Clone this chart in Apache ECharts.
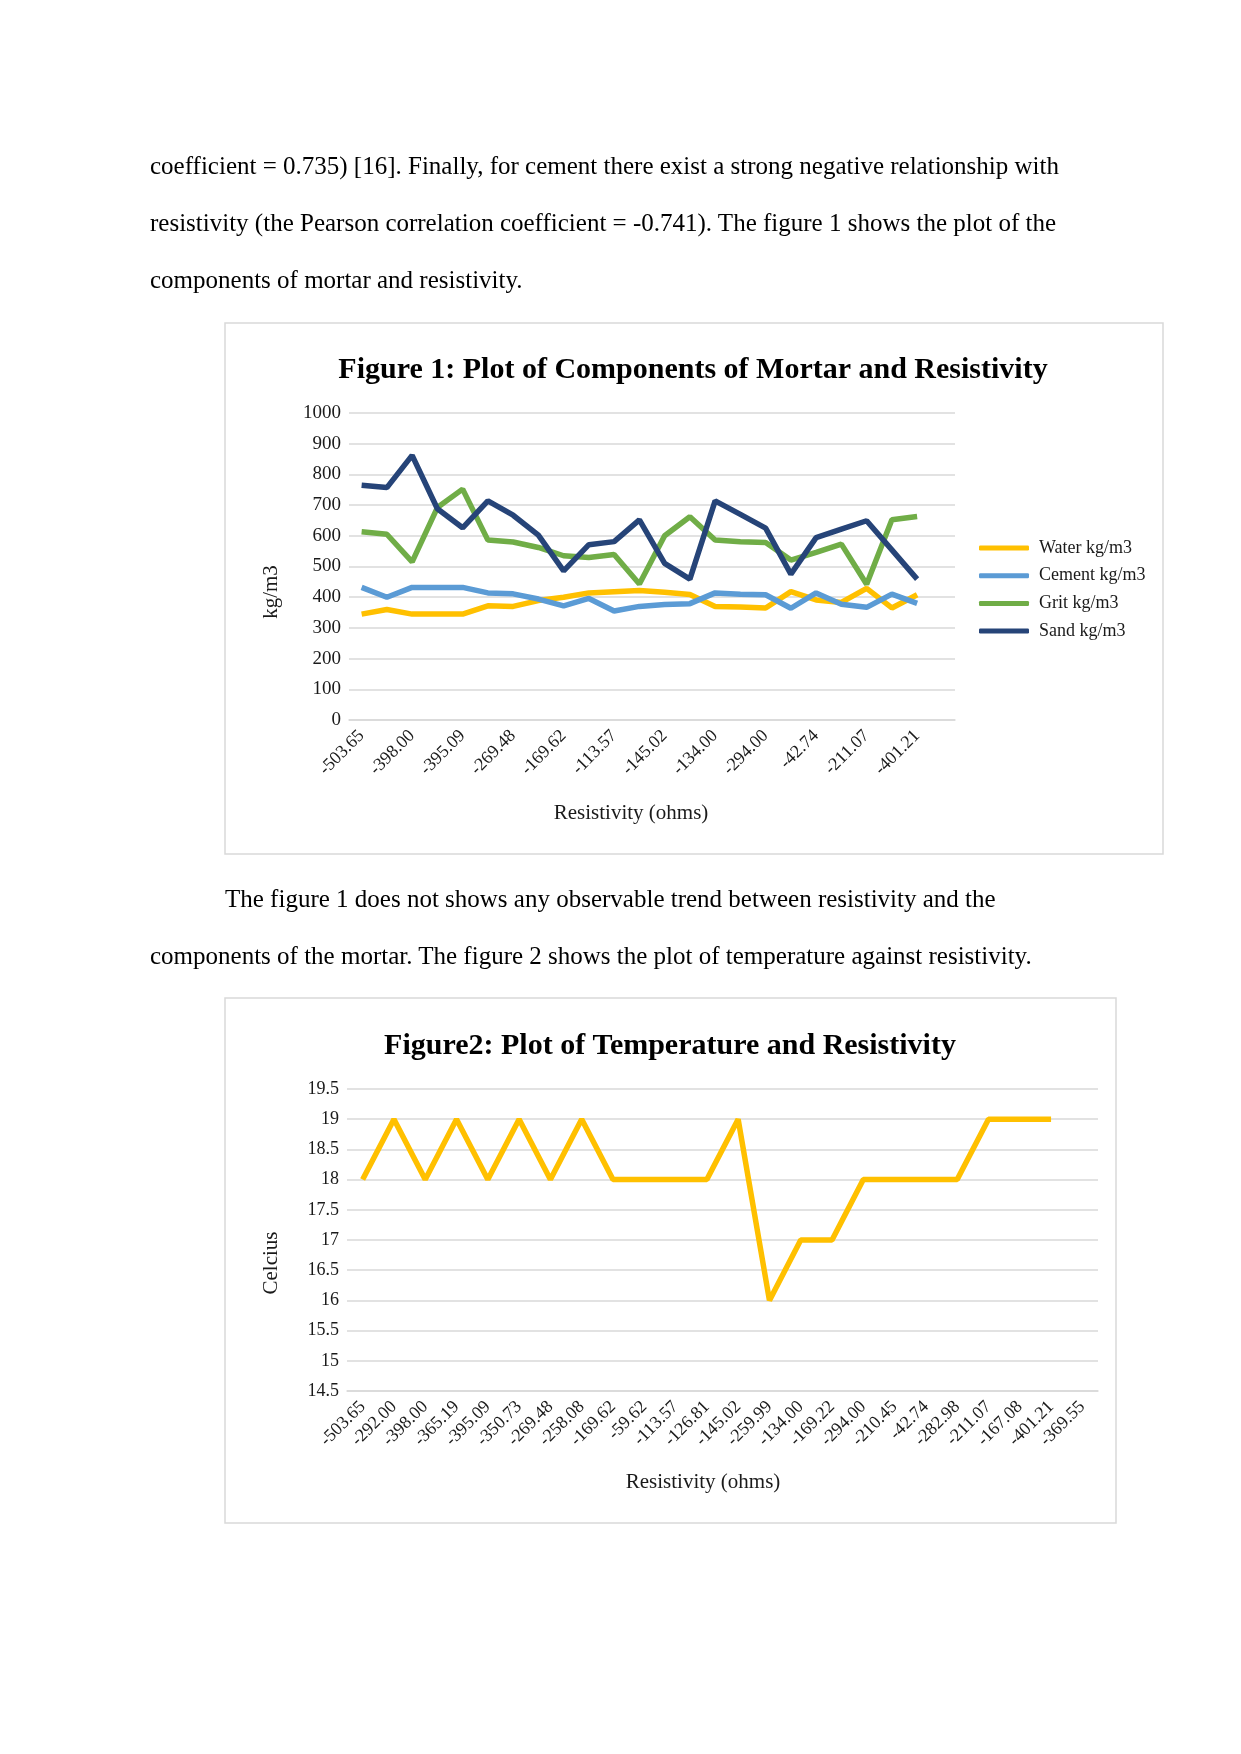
<!DOCTYPE html>
<html>
<head>
<meta charset="utf-8">
<script src="https://cdn.jsdelivr.net/npm/echarts/dist/echarts.min.js"></script>
<style>
html,body{margin:0;padding:0;background:#fff;}
#page{position:relative;width:1241px;height:1754px;overflow:hidden;}
#chart{position:absolute;left:0;top:0;width:1241px;height:1754px;}
.p{position:absolute;font-family:"Liberation Serif","Times New Roman",serif;font-size:25px;color:#000;white-space:nowrap;line-height:25px;}
</style>
</head>
<body>
<div id="page">
<div id="chart"></div>
<div class="p" style="left:150px;top:153px">coefficient = 0.735) [16]. Finally, for cement there exist a strong negative relationship with</div>
<div class="p" style="left:150px;top:210px">resistivity (the Pearson correlation coefficient = -0.741). The figure 1 shows the plot of the</div>
<div class="p" style="left:150px;top:267px">components of mortar and resistivity.</div>
<div class="p" style="left:225px;top:886px">The figure 1 does not shows any observable trend between resistivity and the</div>
<div class="p" style="left:150px;top:943px">components of the mortar. The figure 2 shows the plot of temperature against resistivity.</div>
</div>
<script>
// ---- data ----
const categories = ['-503.65','-292.00','-398.00','-365.19','-395.09','-350.73','-269.48','-258.08','-169.62','-59.62','-113.57','-126.81','-145.02','-259.99','-134.00','-169.22','-294.00','-210.45','-42.74','-282.98','-211.07','-167.08','-401.21','-369.55'];
const water   = [345,360,345,345,345,372,370,389,400,414,418,422,416,409,370,368,365,418,391,383,429,365,408,null];
const cement  = [432,400,432,432,432,414,411,394,372,396,355,370,376,379,414,410,408,364,414,377,367,410,380,null];
const grit    = [613,605,515,692,752,586,580,562,535,529,539,443,600,662,586,581,578,521,546,573,442,652,663,null];
const sand    = [765,757,862,688,626,714,667,602,486,571,581,652,510,459,714,670,625,475,594,622,649,554,459,null];
const temperature = [18,19,18,19,18,19,18,19,18,18,18,18,19,16,17,17,18,18,18,18,19,19,19,null];
const seriesNames = ['Water kg/m3','Cement kg/m3','Grit kg/m3','Sand kg/m3'];
const seriesColors = ['#FFC000','#5B9BD5','#70AD47','#264478'];

const FONT = '"Liberation Serif","Times New Roman",serif';
const GRID = '#d9d9d9';
const TXT = '#1a1a1a';

const chart = echarts.init(document.getElementById('chart'), null, {renderer:'canvas', width:1241, height:1754});

function xAxisCfg(gridIndex, interval){
  return {
    type:'category', gridIndex, data:categories, boundaryGap:true,
    axisTick:{show:false},
    axisLine:{show:true, lineStyle:{color:GRID, width:1.5}},
    axisLabel:{rotate:45, interval, fontSize:18, fontFamily:FONT, color:TXT, margin:13}
  };
}
function yAxisCfg(gridIndex, min, max, interval, size){
  return {
    type:'value', gridIndex, min, max, interval,
    axisLine:{show:false}, axisTick:{show:false},
    splitLine:{show:true, lineStyle:{color:GRID, width:1.5}},
    axisLabel:{fontSize:size, fontFamily:FONT, color:TXT, margin:8, formatter:(v)=>String(v)}
  };
}
function lineSeries(name, data, color, xi){
  return {
    name, type:'line', data, xAxisIndex:xi, yAxisIndex:xi,
    showSymbol:false, symbol:'none', connectNulls:false, animation:false,
    lineStyle:{color, width:5.5}, itemStyle:{color}
  };
}
function txt(text, x, y, size, opts){
  return {type:'text', x, y, rotation:(opts&&opts.rot)||0, silent:true,
    style:{text, fill:(opts&&opts.fill)||TXT, font:((opts&&opts.bold)?'bold ':'')+size+'px '+FONT,
      textAlign:'center', textVerticalAlign:'middle'}};
}

const seriesData = [water, cement, grit, sand];

const option = {
  backgroundColor:'#fff',
  animation:false,
  grid:[
    {left:349, top:413, width:606, height:307, containLabel:false},
    {left:347, top:1089, width:751, height:302, containLabel:false}
  ],
  xAxis:[xAxisCfg(0,1), xAxisCfg(1,0)],
  yAxis:[yAxisCfg(0,0,1000,100,19), yAxisCfg(1,14.5,19.5,0.5,18)],
  legend:{
    orient:'vertical', left:974, top:533, itemWidth:50, itemHeight:5, itemGap:7.7,
    icon:'roundRect', data:seriesNames,
    textStyle:{fontSize:18, fontFamily:FONT, color:TXT, lineHeight:20, padding:[0,0,0,5]}
  },
  series:[
    ...seriesNames.map((n,i)=>lineSeries(n, seriesData[i], seriesColors[i], 0)),
    lineSeries('Temperature', temperature, '#FFC000', 1)
  ],
  graphic:[
    {type:'rect', shape:{x:225, y:323, width:938, height:531}, silent:true, style:{fill:'none', stroke:GRID, lineWidth:1.5}},
    {type:'rect', shape:{x:225, y:998, width:891, height:525}, silent:true, style:{fill:'none', stroke:GRID, lineWidth:1.5}},
    txt('Figure 1: Plot of Components of Mortar and Resistivity', 693, 370, 30, {bold:true, fill:'#000'}),
    txt('kg/m3', 271, 592, 21, {rot:Math.PI/2}),
    txt('Resistivity (ohms)', 631, 813, 21),
    txt('Figure2: Plot of Temperature and Resistivity', 670, 1046, 30, {bold:true, fill:'#000'}),
    txt('Celcius', 271, 1263, 21, {rot:Math.PI/2}),
    txt('Resistivity (ohms)', 703, 1482, 21)
  ]
};
chart.setOption(option);
</script>
</body>
</html>
